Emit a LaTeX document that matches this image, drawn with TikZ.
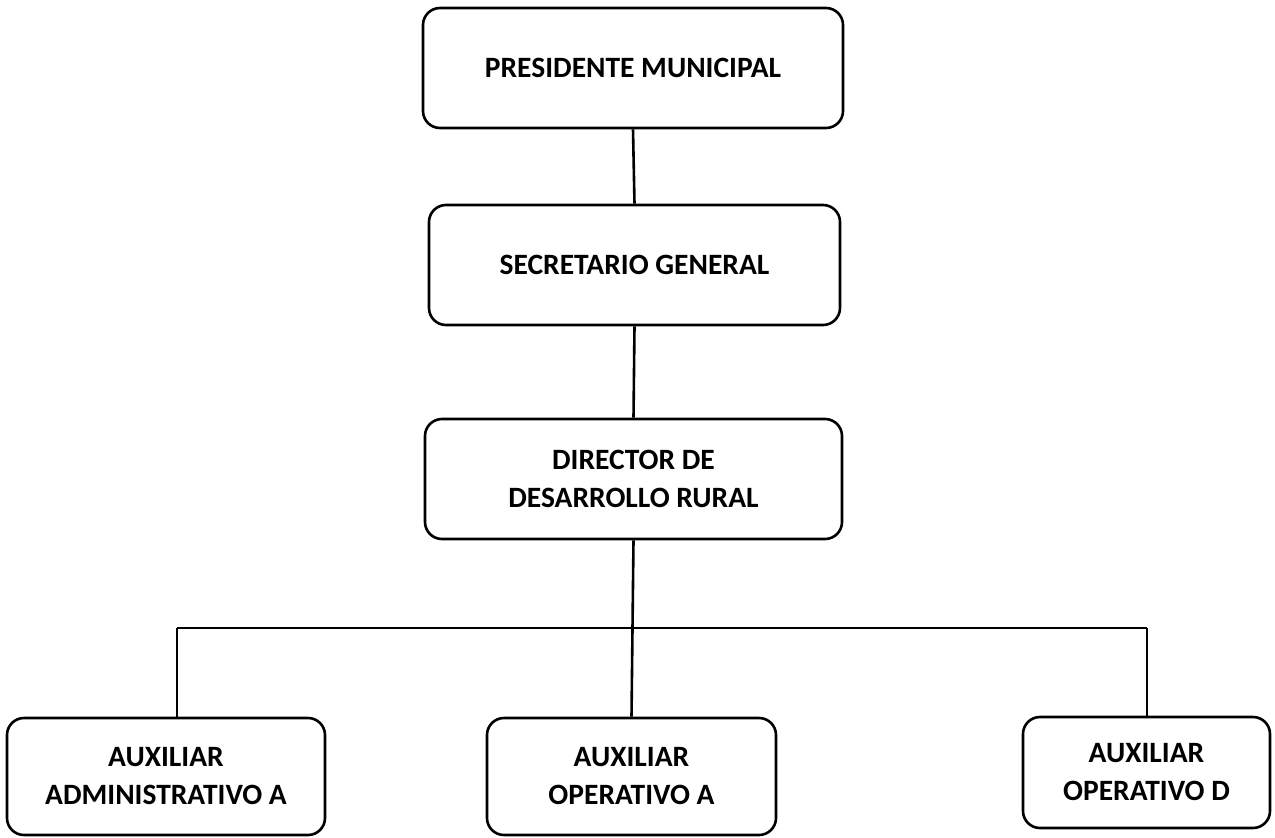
\documentclass[tikz,border=0pt]{standalone}
\usepackage{fontspec}
\setmainfont{Carlito}
\begin{document}
\begin{tikzpicture}[x=1pt,y=-1pt,
  box/.style={draw=black,line width=2.6pt,rounded corners=17pt,align=center,
    font=\fontsize{29.5}{38}\selectfont\bfseries,inner sep=0pt},
  conn/.style={draw=black,line width=2.6pt}]
\useasboundingbox (0,0) rectangle (1275,838);
\node[box,minimum width=420pt,minimum height=120pt] (pres) at (633,68) {PRESIDENTE MUNICIPAL};
\node[box,minimum width=411pt,minimum height=120pt] (sec) at (634.5,265) {SECRETARIO GENERAL};
\node[box,minimum width=417pt,minimum height=120pt] (dir) at (633.5,479) {DIRECTOR DE\\DESARROLLO RURAL};
\node[box,minimum width=318pt,minimum height=117pt] (adm) at (166,776.5) {AUXILIAR\\ADMINISTRATIVO A};
\node[box,minimum width=289pt,minimum height=117pt] (opa) at (631.5,776.5) {AUXILIAR\\OPERATIVO A};
\node[box,minimum width=247pt,minimum height=111pt] (opd) at (1146.5,772.5) {AUXILIAR\\OPERATIVO D};
\coordinate (busL) at (177,628);
\coordinate (busR) at (1147,628);
\draw[conn] (pres.south) -- (sec.north);
\draw[conn] (sec.south) -- (dir.north);
\draw[conn] (dir.south) -- (opa.north);
\draw[conn] (busL) -- (busR);
\draw[conn] (busL) -- (busL |- adm.north);
\draw[conn] (busR) -- (busR |- opd.north);
\end{tikzpicture}
\end{document}
